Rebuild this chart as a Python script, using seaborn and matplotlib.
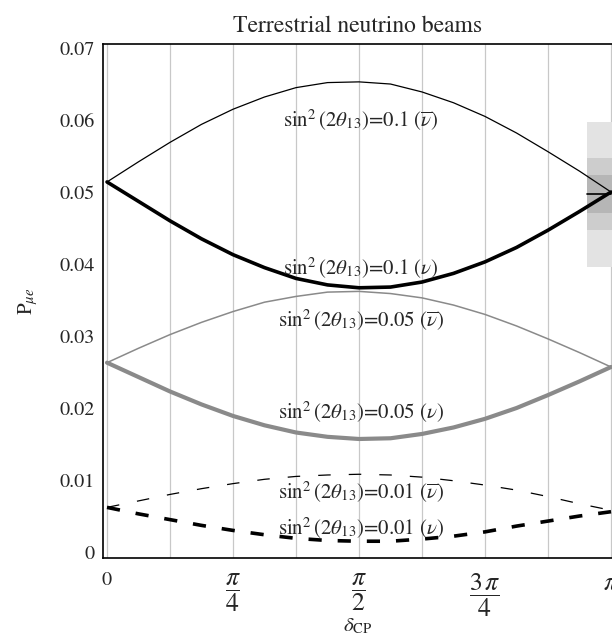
import numpy as np
import pandas as pd
import matplotlib
matplotlib.use("Agg")
import matplotlib.pyplot as plt
import seaborn as sns

# ---- data, x at k*pi/16, k=0..16 ----
k_steps = list(range(17))
p01_bar = [0.0514, 0.0542, 0.0569, 0.0594, 0.0615, 0.0632, 0.0645, 0.0652, 0.0653,
           0.0650, 0.0639, 0.0624, 0.0605, 0.0582, 0.0556, 0.0529, 0.0500]
p01_nu = [0.0514, 0.0487, 0.0460, 0.0435, 0.0413, 0.0395, 0.0380, 0.0371, 0.0367,
          0.0368, 0.0375, 0.0387, 0.0403, 0.0423, 0.0447, 0.0473, 0.0500]
p005_bar = [0.0263, 0.0283, 0.0302, 0.0319, 0.0334, 0.0347, 0.0355, 0.0361, 0.0362,
            0.0359, 0.0353, 0.0343, 0.0330, 0.0314, 0.0296, 0.0277, 0.0257]
p005_nu = [0.0263, 0.0243, 0.0223, 0.0205, 0.0189, 0.0176, 0.0166, 0.0160, 0.0157,
           0.0158, 0.0164, 0.0173, 0.0185, 0.0200, 0.0218, 0.0237, 0.0257]
p001_bar = [0.0062, 0.0071, 0.0080, 0.0088, 0.0095, 0.0101, 0.0105, 0.0107, 0.0108,
            0.0107, 0.0104, 0.0099, 0.0093, 0.0086, 0.0077, 0.0067, 0.0058]
p001_nu = [0.0062, 0.0053, 0.0045, 0.0037, 0.0030, 0.0024, 0.0019, 0.0016, 0.0015,
           0.0015, 0.0018, 0.0022, 0.0028, 0.0036, 0.0043, 0.0050, 0.0056]

series_names = ["0.1bar", "0.1", "0.05bar", "0.05", "0.01bar", "0.01"]
series_vals = [p01_bar, p01_nu, p005_bar, p005_nu, p001_bar, p001_nu]
label_texts = [r"$\mathrm{sin}^2\,(2\theta_{13})$=0.1 ($\overline{\nu}$)",
               r"$\mathrm{sin}^2\,(2\theta_{13})$=0.1 ($\nu$)",
               r"$\mathrm{sin}^2\,(2\theta_{13})$=0.05 ($\overline{\nu}$)",
               r"$\mathrm{sin}^2\,(2\theta_{13})$=0.05 ($\nu$)",
               r"$\mathrm{sin}^2\,(2\theta_{13})$=0.01 ($\overline{\nu}$)",
               r"$\mathrm{sin}^2\,(2\theta_{13})$=0.01 ($\nu$)"]
label_y = [0.0600, 0.0394, 0.0321, 0.0194, 0.0083, 0.0033]

# measurement band at delta = pi (light, mid, dark) and central value
band_lo = [0.0396, 0.0447, 0.0471]
band_hi = [0.0597, 0.0547, 0.0524]
band_center = 0.0497
band_x0 = 2.99

yticks = [0, 0.01, 0.02, 0.03, 0.04, 0.05, 0.06, 0.07]
ytick_labels = ["0", "0.01", "0.02", "0.03", "0.04", "0.05", "0.06", "0.07"]
xtick_labels = ["0", r"$\dfrac{\pi}{4}$", r"$\dfrac{\pi}{2}$", r"$\dfrac{3\,\pi}{4}$", r"$\pi$"]

sns.set_style("white")
plt.rcParams["font.family"] = ["STIXGeneral", "DejaVu Serif"]
plt.rcParams["mathtext.fontset"] = "stix"
plt.rcParams["lines.scale_dashes"] = False

rows = []
for name, vals in zip(series_names, series_vals):
    for k, v in zip(k_steps, vals):
        rows.append({"delta": k * np.pi / 16, "P": v, "series": name})
df = pd.DataFrame(rows)

fig = plt.figure(figsize=(6.12, 6.4), dpi=100)
ax = fig.add_axes([103 / 612, 1 - 558 / 640, (611.5 - 103) / 612, (558 - 44) / 640])

# vertical grid every pi/8
for j in range(9):
    ax.axvline(j * np.pi / 8, color="#c8c8c8", lw=0.9, zorder=0)

# bands
band_cols = ["#e3e3e3", "#cdcdcd", "#b6b6b6"]
for lo, hi, c in zip(band_lo, band_hi, band_cols):
    ax.fill_between([band_x0, np.pi + 0.05], lo, hi, color=c, lw=0, zorder=1)
ax.plot([band_x0, np.pi], [band_center, band_center], color="black", lw=1.2, zorder=2)

styles = {
    "0.1bar": dict(color="black", lw=0.9, ls="-"),
    "0.1": dict(color="black", lw=2.6, ls="-"),
    "0.05bar": dict(color="#8a8a8a", lw=1.1, ls="-"),
    "0.05": dict(color="#8a8a8a", lw=3.0, ls="-"),
    "0.01bar": dict(color="black", lw=0.9, ls=(0, (9, 13))),
    "0.01": dict(color="black", lw=2.6, ls=(0, (9.5, 11.5))),
}
for name in series_names:
    st = styles[name]
    sns.lineplot(data=df[df.series == name], x="delta", y="P", ax=ax,
                 color=st["color"], lw=st["lw"], linestyle=st["ls"],
                 legend=False, zorder=3)

for txt, yv in zip(label_texts, label_y):
    ax.text(1.58, yv, txt, ha="center", va="center", fontsize=15, zorder=4)

ax.set_xlim(-0.025, np.pi + 0.003)
ax.set_ylim(-0.00083, 0.07056)
ax.set_xticks([0, np.pi / 4, np.pi / 2, 3 * np.pi / 4, np.pi])
ax.set_xticklabels(xtick_labels, fontsize=18.5)
xtl = ax.get_xticklabels()
xtl[0].set_fontsize(14.5)
ax.set_xticks([j * np.pi / 8 for j in range(9)], minor=True)
ax.set_yticks(yticks)
ax.set_yticklabels(ytick_labels, fontsize=14.5)
ax.set_yticks(np.arange(0, 0.0705, 0.002), minor=True)
ax.tick_params(axis="both", which="both", direction="in", color="black")
ax.tick_params(axis="y", which="major", length=5, width=1, pad=6)
ax.tick_params(axis="y", which="minor", length=3, width=0.8)
ax.tick_params(axis="x", which="both", length=3, width=0.8, pad=10)
for s in ["left", "bottom", "top", "right"]:
    ax.spines[s].set_color("black")
    ax.spines[s].set_linewidth(1.2)
ax.spines["right"].set_visible(False)

ax.set_xlabel(r"$\delta_{\mathrm{CP}}$", fontsize=15, labelpad=-2)
ax.set_ylabel(r"$\mathrm{P}_{\mu e}$", fontsize=15, labelpad=14)
ax.set_title("Terrestrial neutrino beams", fontsize=17, pad=9)

fig.savefig("out.png", dpi=100)
